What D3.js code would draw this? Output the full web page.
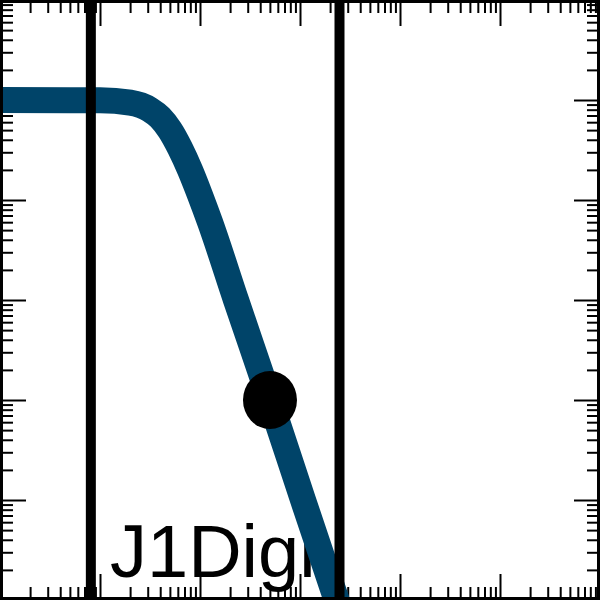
<!DOCTYPE html>
<html>
<head>
<meta charset="utf-8">
<script src="https://cdn.jsdelivr.net/npm/d3@7"></script>
<style>
  html, body { margin: 0; padding: 0; background: #fff; }
  svg { display: block; }
</style>
</head>
<body>
<script>
// ---- data ----
const freq = [1, 10, 20, 31.6, 39.8, 50.1, 63.1, 79.4, 100, 126, 229, 501, 1072, 2512];
const gain = [1, 0.993, 0.94, 0.80, 0.67, 0.50, 0.33, 0.20, 0.112, 0.060, 0.01, 0.001, 1e-4, 7.9e-6];
const markerLines = [8.1, 2483];
const pointX = [501];
const pointY = [0.001];
const labelText = ["J1Digi"];
const xDomain = [1, 1e6];
const yDomain = [1e-5, 10];
const xMajor = [1, 10, 100, 1e3, 1e4, 1e5, 1e6];
const yMajor = [1e-5, 1e-4, 1e-3, 1e-2, 1e-1, 1, 10];

const W = 600, H = 600;
const svg = d3.select("body").append("svg").attr("width", W).attr("height", H);

const x = d3.scaleLog().domain(xDomain).range([0, W]);
const y = d3.scaleLog().domain(yDomain).range([H, 0]);

svg.append("defs").append("clipPath").attr("id", "plot")
  .append("rect").attr("x", 0).attr("y", 0).attr("width", W).attr("height", H);

const xMinor = x.ticks().filter(v => !xMajor.some(m => Math.abs(m - v) / m < 1e-9));
const yMinor = y.ticks().filter(v => !yMajor.some(m => Math.abs(m - v) / m < 1e-9));

// label (under the curve)
svg.append("text")
  .attr("x", 110).attr("y", 577)
  .attr("font-family", "Liberation Sans, Arial, sans-serif")
  .attr("font-size", 74)
  .attr("fill", "#000")
  .text(labelText[0]);

// ticks
function drawAxis(gen, transform, values, size) {
  const g = svg.append("g").attr("transform", transform)
    .call(gen.tickValues(values).tickSize(size).tickFormat(""));
  g.select(".domain").remove();
  g.selectAll(".tick line").attr("stroke", "#000").attr("stroke-width", 2);
}
drawAxis(d3.axisBottom(x), `translate(0,${H})`, xMajor, -26);
drawAxis(d3.axisBottom(x), `translate(0,${H})`, xMinor, -13);
drawAxis(d3.axisTop(x), `translate(0,0)`, xMajor, -26);
drawAxis(d3.axisTop(x), `translate(0,0)`, xMinor, -13);
drawAxis(d3.axisLeft(y), `translate(0,0)`, yMajor, -26);
drawAxis(d3.axisLeft(y), `translate(0,0)`, yMinor, -13);
drawAxis(d3.axisRight(y), `translate(${W},0)`, yMajor, -26);
drawAxis(d3.axisRight(y), `translate(${W},0)`, yMinor, -13);

// curve
const pts = freq.map((f, i) => [f, gain[i]]);
const line = d3.line().x(d => x(d[0])).y(d => y(d[1])).curve(d3.curveMonotoneX);
svg.append("path")
  .attr("clip-path", "url(#plot)")
  .attr("d", line(pts))
  .attr("fill", "none")
  .attr("stroke", "#004469")
  .attr("stroke-width", 26)
  .attr("stroke-linejoin", "round");

// vertical marker lines
svg.selectAll("line.marker").data(markerLines).enter().append("line")
  .attr("class", "marker")
  .attr("x1", d => x(d)).attr("x2", d => x(d))
  .attr("y1", 0).attr("y2", H)
  .attr("stroke", "#000").attr("stroke-width", 10);

// point
svg.selectAll("ellipse.pt").data(pointX).enter().append("ellipse")
  .attr("class", "pt")
  .attr("cx", (d, i) => x(d)).attr("cy", (d, i) => y(pointY[i]))
  .attr("rx", 27).attr("ry", 29)
  .attr("fill", "#000");

// frame
svg.append("rect")
  .attr("x", 1.5).attr("y", 1.5).attr("width", W - 3).attr("height", H - 3)
  .attr("fill", "none").attr("stroke", "#000").attr("stroke-width", 3);
</script>
</body>
</html>
